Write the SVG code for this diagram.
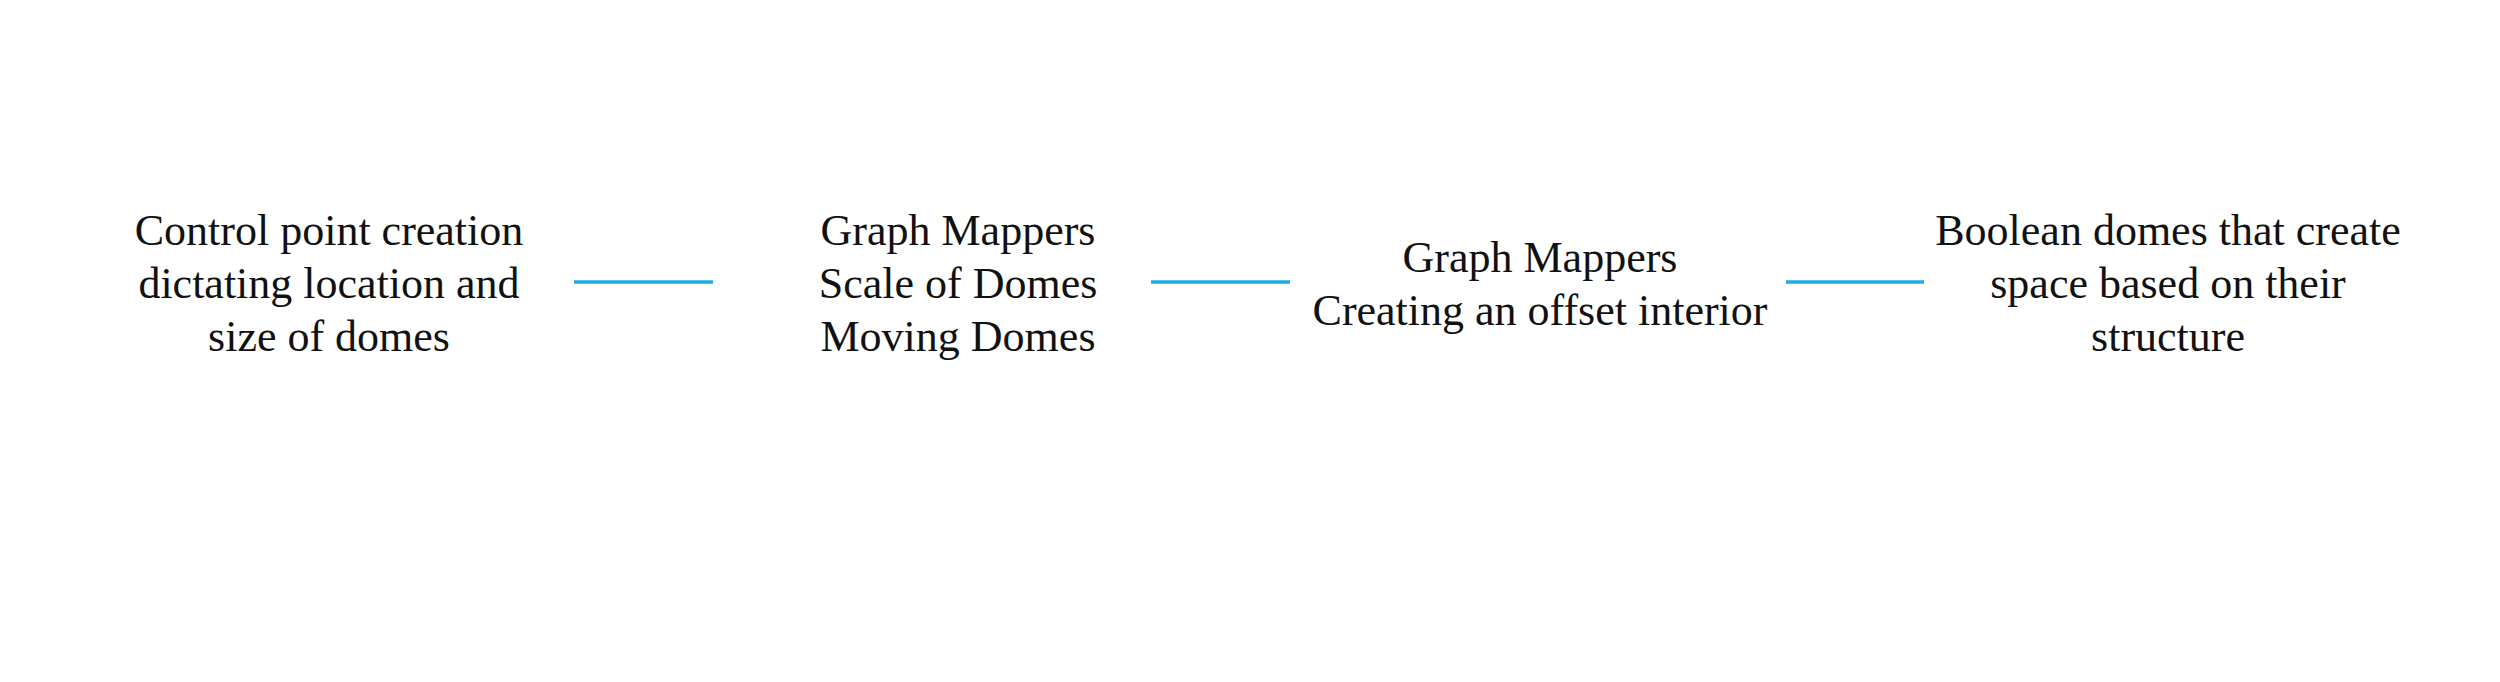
<svg xmlns="http://www.w3.org/2000/svg" width="2500" height="682" viewBox="0 0 2500 682">
<style>
.t{font-family:"Liberation Serif","Times New Roman",serif;font-size:44px;fill:#111;text-anchor:middle}
.c{stroke:#1aaee2;stroke-width:3.5;fill:none}
</style>
<rect width="2500" height="682" fill="#fff"/>
<g id="node1"><text class="t" x="329" y="245">Control point creation</text><text class="t" x="329" y="298">dictating location and</text><text class="t" x="329" y="351">size of domes</text></g>
<g id="node2"><text class="t" x="958" y="245">Graph Mappers</text><text class="t" x="958" y="298">Scale of Domes</text><text class="t" x="958" y="351">Moving Domes</text></g>
<g id="node3"><text class="t" x="1540" y="272">Graph Mappers</text><text class="t" x="1540" y="325">Creating an offset interior</text></g>
<g id="node4"><text class="t" x="2168" y="245">Boolean domes that create</text><text class="t" x="2168" y="298">space based on their</text><text class="t" x="2168" y="351">structure</text></g>
<g id="connectors">
<line class="c" x1="574" y1="282" x2="713" y2="282"/>
<line class="c" x1="1151" y1="282" x2="1290" y2="282"/>
<line class="c" x1="1786" y1="282" x2="1924" y2="282"/>
</g>
</svg>
